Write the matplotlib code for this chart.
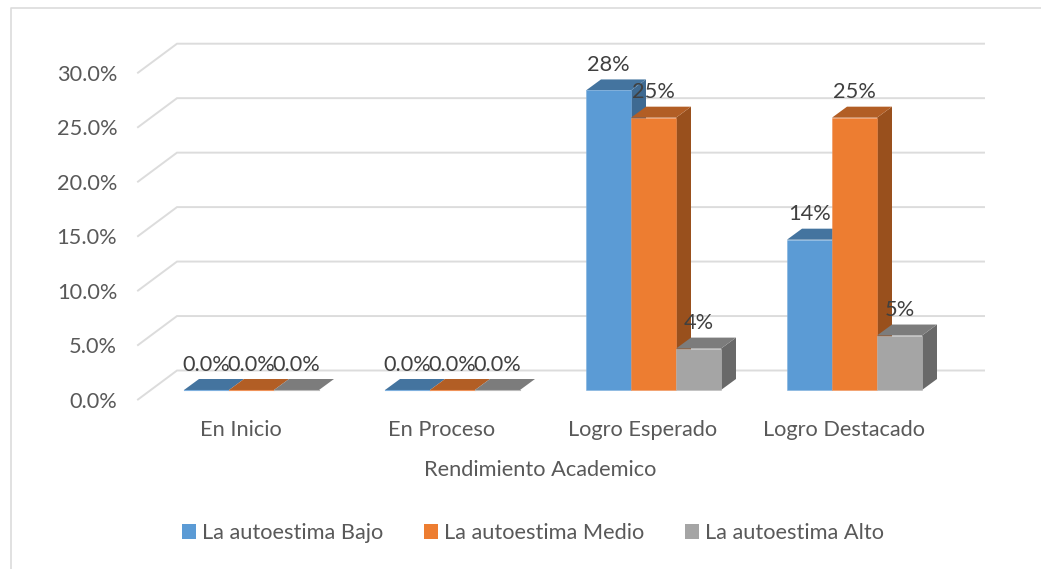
import matplotlib
matplotlib.use('Agg')
import matplotlib.pyplot as plt
from matplotlib.lines import Line2D
from matplotlib.patches import Patch

categories = ['En Inicio', 'En Proceso', 'Logro Esperado', 'Logro Destacado']
series_names = ['La autoestima Bajo', 'La autoestima Medio', 'La autoestima Alto']
bajo = [0.0, 0.0, 27.5, 13.8]
medio = [0.0, 0.0, 25.0, 25.0]
alto = [0.0, 0.0, 3.8, 5.0]
bajo_labels = ['0.0%', '0.0%', '28%', '14%']
medio_labels = ['0.0%', '0.0%', '25%', '25%']
alto_labels = ['0.0%', '0.0%', '4%', '5%']
yticks = [0, 5, 10, 15, 20, 25, 30]

front_cols = ['#5B9BD5', '#ED7D31', '#A5A5A5']
top_cols = ['#44749F', '#B25E25', '#7C7C7C']
side_cols = ['#3E6A92', '#99501D', '#696969']
edge_cols = ['#7FB0DE', '#F0935A', '#BBBBBB']
grid_col = '#DCDCDC'
text_col = '#595959'
label_col = '#404040'

W, H = 1041, 569
plt.rcParams['font.family'] = ['Lato', 'DejaVu Sans']
plt.rcParams['font.size'] = 15.7

fig = plt.figure(figsize=(W / 100, H / 100), dpi=100)
# plot area in pixels: x 138-942, y 72.7-399.5
ax = fig.add_axes([138 / W, 1 - 399.5 / H, 804 / W, 326.8 / H])
ax.set_xlim(0, 4)
ax.set_ylim(0, 30)
for s in ax.spines.values():
    s.set_visible(False)

# pixel -> data scale
px = 4 / 804
py = 30 / 326.8
wall_dx, wall_dy = 39 * px, 29 * py
floor_dx, floor_dy = 13 * px, 9.5 * py
bar_dx, bar_dy = 15 * px, 11 * py
bar_w = 45 * px
pad = 33 * px

# outer frame: only the top and left edges show in the crop
fig.add_artist(Line2D([10.5 / W, 10.5 / W, 1], [0, 1 - 7.5 / H, 1 - 7.5 / H], color=grid_col,
                      lw=1.2, transform=fig.transFigure))

# gridlines on side wall + back wall
for v in yticks:
    ax.plot([0, wall_dx, 4 + wall_dx + 3 * px], [v, v + wall_dy, v + wall_dy],
            color=grid_col, lw=1.4, clip_on=False, zorder=1, solid_joinstyle='miter')

values = [bajo, medio, alto]
labels = [bajo_labels, medio_labels, alto_labels]
z = 2
for i in range(len(categories)):
    for j in range(3):
        v = values[j][i]
        x0 = i + pad + j * bar_w + floor_dx
        x1 = x0 + bar_w
        y0 = floor_dy
        y1 = y0 + v
        # side, top, front
        ax.fill([x1, x1 + bar_dx, x1 + bar_dx, x1], [y0, y0 + bar_dy, y1 + bar_dy, y1],
                color=side_cols[j], lw=0, clip_on=False, zorder=z)
        ax.fill([x0, x1, x1 + bar_dx, x0 + bar_dx], [y1, y1, y1 + bar_dy, y1 + bar_dy],
                color=top_cols[j], lw=0, clip_on=False, zorder=z + 0.1)
        ax.bar(x0, v, bottom=y0, width=bar_w, align='edge', color=front_cols[j],
               edgecolor=edge_cols[j], lw=0.4, clip_on=False, zorder=z + 0.2)
        if v == 0:
            ax.plot([x0, x1], [y0, y0], color=edge_cols[j], lw=0.8, clip_on=False, zorder=z + 0.3)
        z += 1

# data labels on top of everything
for i in range(len(categories)):
    for j in range(3):
        x0 = i + pad + j * bar_w + floor_dx
        ax.annotate(labels[j][i], (x0 + bar_w / 2, floor_dy + values[j][i]),
                    xytext=(0, 18.2), textcoords='offset points', ha='center', va='center',
                    color=label_col, zorder=50, annotation_clip=False)

ax.set_xticks([i + 0.51 for i in range(4)])
ax.set_xticklabels(categories)
ax.set_yticks(yticks)
ax.set_yticklabels(['%.1f%%' % v for v in yticks])
ax.tick_params(axis='both', length=0, colors=text_col)
ax.tick_params(axis='x', pad=15)
ax.tick_params(axis='y', pad=15)
ax.set_xlabel('Rendimiento Academico', color=text_col, labelpad=14)

handles = [Patch(facecolor=c, edgecolor='none') for c in front_cols]
fig.legend(handles, series_names, ncol=3, loc='center', bbox_to_anchor=(533 / W, 1 - 533 / H),
           frameon=False, labelcolor=text_col, handlelength=0.64, handleheight=0.64,
           handletextpad=0.28, columnspacing=1.88, borderpad=0, borderaxespad=0)

fig.savefig('out.png', dpi=100)
